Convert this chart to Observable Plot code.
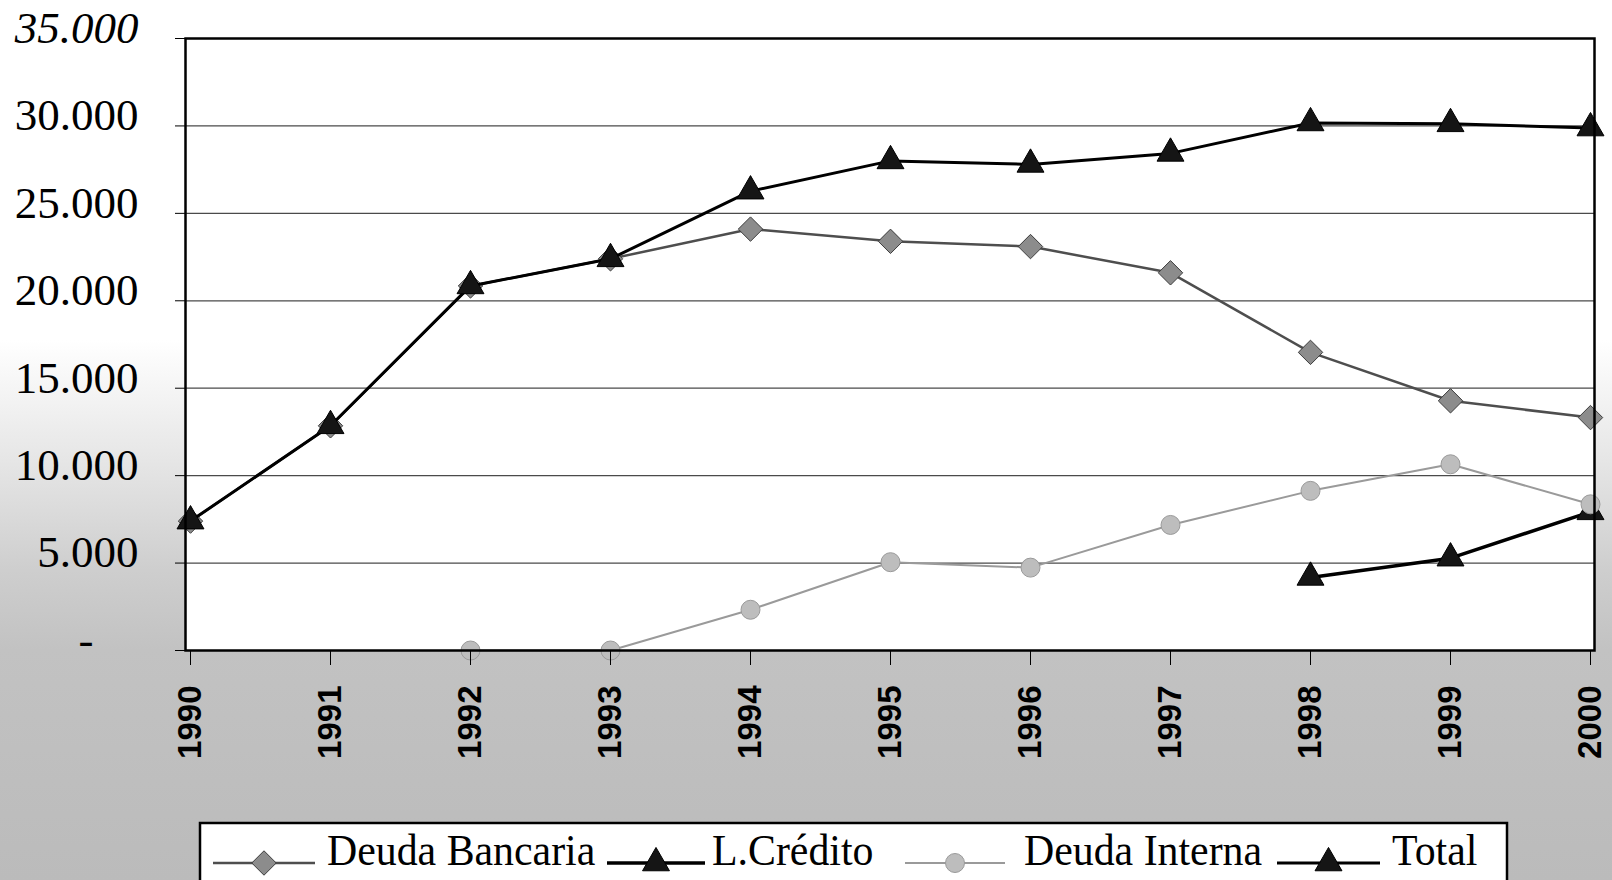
<!DOCTYPE html>
<html><head><meta charset="utf-8">
<script src="https://cdn.jsdelivr.net/npm/d3@7"></script>
<script src="https://cdn.jsdelivr.net/npm/@observablehq/plot@0.6"></script>
<style>
html,body{margin:0;padding:0;}
body{width:1612px;height:880px;overflow:hidden;position:relative;
  background: linear-gradient(to bottom, #ffffff 0px, #ffffff 340px, #e6e6e6 460px, #cecece 570px, #c2c2c2 650px, #bbbbbb 880px);}
#chart{position:absolute;left:0;top:0;}
#legend{position:absolute;left:0;top:800px;}
</style></head><body>
<div id="chart"></div>
<svg id="legend" width="1612" height="80"></svg>
<script>
// ---- data ----
const years = ["1990","1991","1992","1993","1994","1995","1996","1997","1998","1999","2000"];
const seriesNames = ["Deuda Bancaria", "L.Crédito", "Deuda Interna", "Total"];
const deudaBancaria = [7400, 12850, 20850, 22400, 24100, 23400, 23100, 21600, 17050, 14280, 13320];
const lCredito      = [null, null, null, null, null, null, null, null, 4180, 5280, 7930];
const deudaInterna  = [null, null, 0, 0, 2330, 5050, 4740, 7180, 9130, 10650, 8360];
const total         = [7400, 12850, 20850, 22400, 26270, 28000, 27800, 28430, 30170, 30120, 29880];
const yTicks = [0, 5000, 10000, 15000, 20000, 25000, 30000, 35000];
const yTickLabels = ["-", "5.000", "10.000", "15.000", "20.000", "25.000", "30.000", "35.000"];

// ---- build table ----
const seriesValues = [deudaBancaria, lCredito, deudaInterna, total];
const rows = [];
seriesNames.forEach((s, i) => years.forEach((y, j) => {
  const v = seriesValues[i][j];
  if (v != null) rows.push({serie: s, year: y, value: v});
}));

const styles = {
  "Deuda Bancaria": {stroke: "#4e4e4e", sw: 2.5, symbol: "diamond2", r: 11, fill: "#8c8c8c", mstroke: "#3c3c3c"},
  "L.Crédito":      {stroke: "#000000", sw: 3.5, symbol: "triangle", r: 10, fill: "#151515", mstroke: "#000"},
  "Deuda Interna":  {stroke: "#9a9a9a", sw: 2,   symbol: "circle",   r: 9.5, fill: "#bdbdbd", mstroke: "#9a9a9a"},
  "Total":          {stroke: "#000000", sw: 3,   symbol: "triangle", r: 10, fill: "#151515", mstroke: "#000"}
};

const seriesMarks = seriesNames.flatMap(s => {
  const d = rows.filter(r => r.serie === s);
  const st = styles[s];
  return [
    Plot.line(d, {x: "year", y: "value", stroke: st.stroke, strokeWidth: st.sw}),
    Plot.dot(d, {x: "year", y: "value", symbol: st.symbol, r: st.r, fill: st.fill, stroke: st.mstroke, strokeWidth: 1})
  ];
});

const fmtY = d => {
  const lab = yTickLabels[yTicks.indexOf(d)];
  return lab === "-" ? "-\u00a0\u00a0\u00a0\u00a0" : lab;
};
const yText = {tickSize: 0, tickPadding: 47, dy: -10, fontSize: 45, fontFamily: "Liberation Serif", tickFormat: fmtY, label: null};

const chart = Plot.plot({
  width: 1612, height: 800,
  marginLeft: 185, marginRight: 18, marginTop: 38, marginBottom: 150,
  style: {background: "transparent", color: "black", fontFamily: "Liberation Serif"},
  x: {type: "point", domain: years, padding: 0},
  y: {domain: [0, 35000]},
  marks: [
    Plot.frame({fill: "white", stroke: null}),
    Plot.gridY(yTicks.filter(t => t > 0 && t < 35000), {stroke: "#4a4a4a", strokeOpacity: 1, strokeWidth: 1.2}),
    ...seriesMarks,
    Plot.frame({stroke: "black", strokeWidth: 2.5}),
    Plot.axisY(yTicks, {tickSize: 10, tickFormat: () => "", label: null}),
    Plot.axisY(yTicks.filter(t => t < 35000), yText),
    Plot.axisY([35000], {...yText, fontStyle: "italic"}),
    Plot.axisX(years, {tickSize: 15, tickPadding: 20, tickRotate: -90, fontSize: 33, fontWeight: "bold", fontFamily: "Liberation Sans, Arial, sans-serif", label: null})
  ]
});
document.getElementById("chart").appendChild(chart);

// ---- legend ----
const lg = d3.select("#legend");
lg.append("rect").attr("x", 200).attr("y", 23).attr("width", 1307).attr("height", 80)
  .attr("fill", "white").attr("stroke", "black").attr("stroke-width", 2.5);
const legendLayout = [
  {x0: 213, x1: 315, tx: 327},
  {x0: 607, x1: 705, tx: 712},
  {x0: 905, x1: 1005, tx: 1024},
  {x0: 1277, x1: 1380, tx: 1392}
];
const symbolOf = {diamond2: d3.symbolDiamond2, triangle: d3.symbolTriangle, circle: d3.symbolCircle};
seriesNames.forEach((s, i) => {
  const L = legendLayout[i], st = styles[s], ly = 63;
  lg.append("line").attr("x1", L.x0).attr("x2", L.x1).attr("y1", ly).attr("y2", ly)
    .attr("stroke", st.stroke).attr("stroke-width", st.sw);
  lg.append("path").attr("d", d3.symbol(symbolOf[st.symbol], Math.PI * st.r * st.r)())
    .attr("transform", `translate(${(L.x0 + L.x1) / 2},${ly})`)
    .attr("fill", st.fill).attr("stroke", st.mstroke);
  lg.append("text").attr("transform", `translate(${L.tx},65) scale(0.93,1)`).text(s)
    .attr("font-family", "Liberation Serif").attr("font-size", 45).attr("fill", "black");
});
</script>
</body></html>
